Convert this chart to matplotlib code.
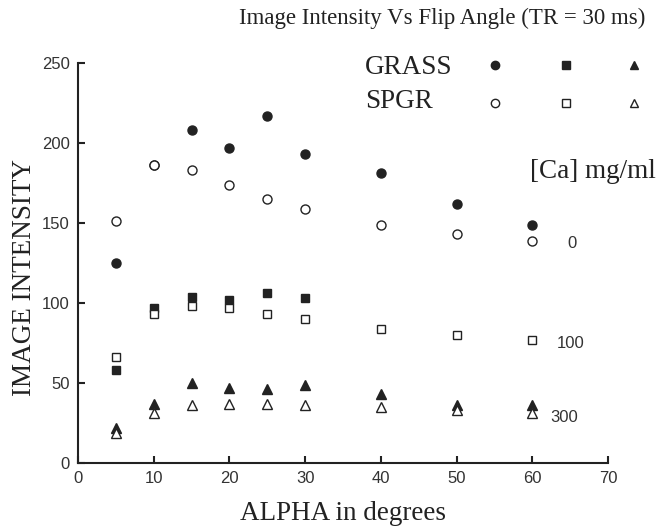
import matplotlib
matplotlib.use("Agg")
import matplotlib.pyplot as plt

# flip angle (degrees)
alpha = [5, 10, 15, 20, 25, 30, 40, 50, 60]
alpha_sq = [5, 10, 15, 20, 25, 30]

# [Ca] = 0 mg/ml
grass_0 = [125, 186, 208, 197, 217, 193, 181, 162, 149]
spgr_0 = [151, 186, 183, 174, 165, 159, 149, 143, 139]
# [Ca] = 100 mg/ml
grass_100 = [58, 97, 104, 102, 106, 103]
spgr_100 = [66, 93, 98, 97, 93, 90, 84, 80, 77]
# [Ca] = 300 mg/ml
grass_300 = [22, 37, 50, 47, 46, 49, 43, 36, 36]
spgr_300 = [19, 31, 36, 37, 37, 36, 35, 33, 31]

conc_labels = ["0", "100", "300"]

INK = "#222222"
serif = ["Liberation Serif", "DejaVu Serif"]
sans = ["Liberation Sans", "DejaVu Sans"]

plt.rcParams["font.family"] = sans

fig = plt.figure(figsize=(6.56, 5.31), dpi=100)
ax = fig.add_axes([78 / 656, 1 - 463 / 531, 530 / 656, 400 / 531])

ms = 6.5
ax.plot(alpha, grass_0, "o", ms=ms, color=INK, ls="none")
ax.plot(alpha, spgr_0, "o", ms=ms, mfc="white", mec=INK, mew=1.0, ls="none")
ax.plot(alpha_sq, grass_100, "s", ms=ms - 0.5, color=INK, ls="none")
ax.plot(alpha, spgr_100, "s", ms=ms - 0.5, mfc="white", mec=INK, mew=1.0, ls="none")
ax.plot(alpha, grass_300, "^", ms=ms + 0.5, color=INK, ls="none")
ax.plot(alpha, spgr_300, "^", ms=ms + 0.5, mfc="white", mec=INK, mew=1.0, ls="none")

ax.set_xlim(0, 70)
ax.set_ylim(0, 250)
ax.set_xticks(range(0, 71, 10))
ax.set_yticks(range(0, 251, 50))
ax.spines["top"].set_visible(False)
ax.spines["right"].set_visible(False)
for s in ["left", "bottom"]:
    ax.spines[s].set_linewidth(1.5)
    ax.spines[s].set_color(INK)
ax.tick_params(direction="in", length=5, width=1.5, color=INK,
               labelsize=12, labelcolor="#333333", pad=6)

ax.set_xlabel("ALPHA in degrees", family=serif, fontsize=19.5, color=INK)
ax.set_ylabel("IMAGE INTENSITY", family=serif, fontsize=19.5, color=INK)
ax.xaxis.set_label_coords(0.5, -0.095)
ax.yaxis.set_label_coords(-0.077, 0.465)
fig.text(442 / 656, 1 - 18 / 531, "Image Intensity Vs Flip Angle (TR = 30 ms)",
         family=serif, fontsize=16.5, color=INK, ha="center", va="center")

# legend block
ax.text(0.5415, 0.9875, "GRASS", transform=ax.transAxes, family=serif,
        fontsize=19.5, color=INK, va="center")
ax.text(0.5415, 0.9025, "SPGR", transform=ax.transAxes, family=serif,
        fontsize=19.5, color=INK, va="center")
for xm, mk in zip([0.787, 0.921, 1.049], ["o", "s", "^"]):
    ax.plot([xm], [0.995], mk, ms=ms - 0.5, color=INK, transform=ax.transAxes, clip_on=False)
    ax.plot([xm], [0.90], mk, ms=ms - 0.5, mfc="white", mec=INK, mew=1.0,
            transform=ax.transAxes, clip_on=False)

ax.text(0.853, 0.73, "[Ca] mg/ml", transform=ax.transAxes, family=serif,
        fontsize=19.5, color=INK, va="center")
for (xl, yl), lab in zip([(0.932, 0.5475), (0.904, 0.298), (0.892, 0.1125)], conc_labels):
    ax.text(xl, yl, lab, transform=ax.transAxes, fontsize=12, color="#333333",
            va="center", ha="center" if lab == "0" else "left")

fig.savefig("out.png", dpi=100, facecolor="white")
